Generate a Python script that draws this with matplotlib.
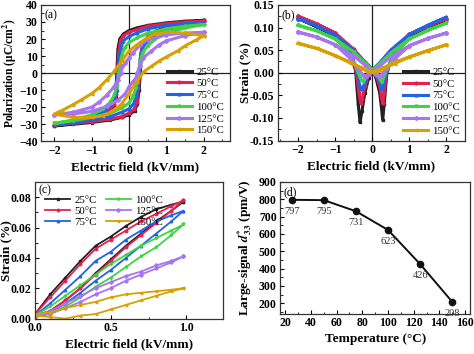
import numpy as np
import matplotlib
matplotlib.use("Agg")
import matplotlib.pyplot as plt
from matplotlib.ticker import AutoMinorLocator, MultipleLocator

plt.rcParams['font.family'] = ['Liberation Serif', 'DejaVu Serif']
plt.rcParams['mathtext.fontset'] = 'stix'
plt.rcParams['font.weight'] = 'bold'

temps = ['25°C', '50°C', '75°C', '100°C', '125°C', '150°C']
colors = ['#222222', '#e8204f', '#2262e6', '#3fd43f', '#a774f2', '#d8a000']
markers = ['s', 'o', '^', 'v', 'D', '<']

# (a) P-E loops: upper branch (E decreasing), lower branch (E increasing)
pe_up_E = [
    [2.0, 1.5, 1.0, 0.5, 0.2, 0.0, -0.15, -0.25, -0.3, -0.33, -0.36, -0.4, -0.5, -0.7, -1.0, -1.5, -2.0],
    [2.0, 1.5, 1.0, 0.5, 0.2, 0.0, -0.15, -0.23, -0.28, -0.31, -0.34, -0.4, -0.5, -0.7, -1.0, -1.5, -2.0],
    [2.0, 1.5, 1.0, 0.5, 0.2, 0.0, -0.15, -0.22, -0.27, -0.3, -0.33, -0.4, -0.5, -0.7, -1.0, -1.5, -2.0],
    [2.0, 1.5, 1.0, 0.5, 0.2, 0.0, -0.12, -0.2, -0.25, -0.28, -0.32, -0.4, -0.5, -0.7, -1.0, -1.5, -2.0],
    [2.0, 1.5, 1.0, 0.5, 0.3, 0.1, 0.0, -0.1, -0.18, -0.22, -0.3, -0.4, -0.6, -0.8, -1.0, -1.5, -2.0],
    [2.0, 1.5, 1.0, 0.7, 0.5, 0.3, 0.2, 0.0, -0.2, -0.4, -0.6, -0.8, -1.0, -1.3, -1.5, -1.8, -2.0],
]
pe_up_P = [
    [31, 30.5, 29.5, 28, 26.5, 25, 23, 20, 14, 0, -14, -19, -22, -25, -27, -29.5, -31],
    [30.5, 30, 29, 27.5, 25.5, 24, 22, 19, 12, 0, -12, -18, -21, -24.5, -26.5, -29, -30.5],
    [29.5, 29, 28, 26, 23.5, 21.5, 19, 15, 8, 0, -10, -16, -19, -23, -26, -28.5, -30],
    [28.5, 27.5, 26, 23.5, 20.5, 18, 15, 10, 4, 0, -7, -13, -17, -21, -24.5, -27.5, -29.5],
    [24, 23.5, 22.5, 19.5, 16.5, 12, 9, 6, 4, 0, -4, -8, -13, -17, -20, -23, -24.5],
    [22, 23.5, 24, 23, 21, 18, 16.5, 13, 7, 1, -4, -8.5, -12, -16, -18.5, -22, -24],
]
pe_lo_E = [
    [-2.0, -1.5, -1.0, -0.5, -0.2, 0.0, 0.15, 0.22, 0.27, 0.3, 0.33, 0.38, 0.5, 0.7, 1.0, 1.5, 2.0],
    [-2.0, -1.5, -1.0, -0.5, -0.2, 0.0, 0.14, 0.21, 0.25, 0.28, 0.31, 0.36, 0.5, 0.7, 1.0, 1.5, 2.0],
    [-2.0, -1.5, -1.0, -0.5, -0.2, 0.0, 0.12, 0.2, 0.24, 0.27, 0.3, 0.36, 0.5, 0.7, 1.0, 1.5, 2.0],
    [-2.0, -1.5, -1.0, -0.5, -0.2, 0.0, 0.1, 0.18, 0.22, 0.25, 0.29, 0.36, 0.5, 0.7, 1.0, 1.5, 2.0],
    [-2.0, -1.5, -1.0, -0.6, -0.3, -0.1, 0.0, 0.1, 0.18, 0.22, 0.28, 0.38, 0.6, 0.8, 1.0, 1.5, 2.0],
    [-2.0, -1.5, -1.0, -0.7, -0.5, -0.3, -0.2, 0.0, 0.2, 0.4, 0.6, 0.8, 1.0, 1.3, 1.5, 1.8, 2.0],
]
pe_lo_P = [
    [-31, -30, -29, -27.5, -26, -24.5, -22, -18, -10, 0, 12, 18, 21.5, 24.5, 27, 29.5, 31],
    [-30.5, -29.5, -28.5, -27, -25.5, -23.5, -21, -17, -9, 0, 11, 17, 21, 24, 26.5, 29, 30.5],
    [-30, -29, -27.5, -25.5, -23, -21, -18, -13, -6, 0, 9, 15, 19, 22.5, 25.5, 28, 29.5],
    [-29.5, -28, -26, -23.5, -20.5, -17.5, -14, -9, -3, 0, 6, 12, 16, 20, 23.5, 26.5, 28.5],
    [-24.5, -24, -22.5, -19.5, -16, -12, -8, -5, -3, 0, 4, 9, 13, 16.5, 19, 22, 24],
    [-24, -26, -26, -25, -23, -20, -18, -12, -5, 1, 4, 7, 9.5, 13, 16, 19.5, 22],
]

# (b) S-E butterfly loops (E increasing branch, E decreasing branch)
se_inc_E = [
    [-2, -1.5, -1, -0.5, -0.2, 0, 0.1, 0.2, 0.25, 0.28, 0.32, 0.4, 0.6, 1, 1.5, 2],
    [-2, -1.5, -1, -0.5, -0.2, 0, 0.1, 0.2, 0.25, 0.28, 0.32, 0.4, 0.6, 1, 1.5, 2],
    [-2, -1.5, -1, -0.5, -0.2, 0, 0.1, 0.18, 0.23, 0.27, 0.31, 0.4, 0.6, 1, 1.5, 2],
    [-2, -1.5, -1, -0.5, -0.2, 0, 0.1, 0.17, 0.22, 0.25, 0.3, 0.4, 0.6, 1, 1.5, 2],
    [-2, -1.5, -1, -0.5, -0.2, 0, 0.08, 0.14, 0.18, 0.2, 0.25, 0.35, 0.6, 1, 1.5, 2],
    [-2, -1.5, -1, -0.5, -0.3, -0.1, 0, 0.05, 0.1, 0.15, 0.2, 0.3, 0.6, 1, 1.5, 2],
]
se_inc_S = [
    [0.12, 0.102, 0.082, 0.048, 0.022, 0.006, -0.012, -0.045, -0.08, -0.105, -0.07, 0.005, 0.04, 0.078, 0.098, 0.117],
    [0.125, 0.108, 0.088, 0.052, 0.024, 0.008, -0.005, -0.03, -0.055, -0.068, -0.045, 0.008, 0.045, 0.085, 0.103, 0.12],
    [0.12, 0.104, 0.083, 0.05, 0.024, 0.008, -0.003, -0.018, -0.03, -0.037, -0.025, 0.008, 0.045, 0.085, 0.105, 0.123],
    [0.105, 0.093, 0.075, 0.046, 0.022, 0.007, -0.002, -0.01, -0.017, -0.02, -0.012, 0.008, 0.04, 0.075, 0.094, 0.11],
    [0.09, 0.079, 0.062, 0.037, 0.017, 0.004, -0.002, -0.006, -0.008, -0.008, -0.004, 0.005, 0.03, 0.06, 0.076, 0.088],
    [0.065, 0.054, 0.038, 0.02, 0.011, 0.004, 0.002, 0.001, 0.002, 0.004, 0.006, 0.01, 0.02, 0.035, 0.049, 0.062],
]
se_dec_E = [
    [2, 1.5, 1, 0.5, 0.2, 0, -0.1, -0.2, -0.28, -0.33, -0.38, -0.45, -0.6, -1, -1.5, -2],
    [2, 1.5, 1, 0.5, 0.2, 0, -0.1, -0.2, -0.27, -0.31, -0.36, -0.44, -0.6, -1, -1.5, -2],
    [2, 1.5, 1, 0.5, 0.2, 0, -0.1, -0.18, -0.25, -0.3, -0.35, -0.42, -0.6, -1, -1.5, -2],
    [2, 1.5, 1, 0.5, 0.2, 0, -0.1, -0.17, -0.22, -0.26, -0.32, -0.42, -0.6, -1, -1.5, -2],
    [2, 1.5, 1, 0.5, 0.2, 0, -0.08, -0.14, -0.18, -0.21, -0.26, -0.36, -0.6, -1, -1.5, -2],
    [2, 1.5, 1, 0.5, 0.3, 0.1, 0, -0.05, -0.1, -0.15, -0.2, -0.3, -0.6, -1, -1.5, -2],
]
se_dec_S = [
    [0.117, 0.098, 0.078, 0.044, 0.019, 0.004, -0.012, -0.045, -0.085, -0.11, -0.07, 0.005, 0.042, 0.082, 0.102, 0.12],
    [0.12, 0.103, 0.085, 0.05, 0.022, 0.006, -0.005, -0.03, -0.058, -0.068, -0.045, 0.008, 0.048, 0.088, 0.108, 0.125],
    [0.123, 0.105, 0.085, 0.05, 0.022, 0.006, -0.003, -0.018, -0.032, -0.037, -0.025, 0.008, 0.046, 0.083, 0.104, 0.12],
    [0.11, 0.094, 0.075, 0.044, 0.02, 0.005, -0.002, -0.01, -0.017, -0.02, -0.012, 0.008, 0.04, 0.075, 0.093, 0.105],
    [0.088, 0.076, 0.06, 0.035, 0.015, 0.003, -0.002, -0.006, -0.008, -0.008, -0.004, 0.005, 0.032, 0.062, 0.079, 0.09],
    [0.062, 0.049, 0.035, 0.02, 0.011, 0.004, 0.002, 0.001, 0.002, 0.004, 0.006, 0.01, 0.022, 0.038, 0.054, 0.065],
]

# (c) unipolar strain: rising and falling branches
uni_E = [0.0, 0.1, 0.2, 0.3, 0.4, 0.5, 0.6, 0.7, 0.8, 0.9, 0.98]
uni_up = [
    [0.002, 0.005, 0.012, 0.02, 0.03, 0.039, 0.048, 0.056, 0.064, 0.071, 0.077],
    [0.002, 0.005, 0.012, 0.02, 0.029, 0.038, 0.047, 0.055, 0.063, 0.071, 0.078],
    [0.002, 0.004, 0.01, 0.017, 0.025, 0.032, 0.04, 0.048, 0.056, 0.064, 0.071],
    [0.002, 0.004, 0.008, 0.014, 0.021, 0.027, 0.034, 0.041, 0.047, 0.055, 0.062],
    [0.001, 0.003, 0.007, 0.011, 0.016, 0.02, 0.025, 0.029, 0.033, 0.037, 0.041],
    [0.002, 0.001, 0.0, 0.002, 0.003, 0.006, 0.009, 0.012, 0.015, 0.018, 0.02],
]
uni_down = [
    [0.003, 0.016, 0.027, 0.038, 0.048, 0.054, 0.061, 0.067, 0.072, 0.075, 0.077],
    [0.003, 0.014, 0.025, 0.036, 0.046, 0.052, 0.058, 0.064, 0.069, 0.074, 0.078],
    [0.002, 0.01, 0.019, 0.028, 0.038, 0.044, 0.052, 0.058, 0.064, 0.068, 0.071],
    [0.002, 0.008, 0.015, 0.022, 0.029, 0.036, 0.042, 0.048, 0.053, 0.058, 0.062],
    [0.002, 0.005, 0.01, 0.015, 0.02, 0.024, 0.028, 0.031, 0.035, 0.038, 0.041],
    [0.003, 0.004, 0.007, 0.009, 0.011, 0.014, 0.016, 0.017, 0.018, 0.019, 0.02],
]

# (d) large-signal d33*
T = [25, 50, 75, 100, 125, 150]
d33 = [797, 795, 731, 623, 426, 208]

fig = plt.figure(figsize=(4.74, 3.54), dpi=100)
axa = fig.add_axes([0.0865, 0.601, 0.3985, 0.385])
axb = fig.add_axes([0.586, 0.603, 0.395, 0.383])
axc = fig.add_axes([0.074, 0.100, 0.396, 0.386])
axd = fig.add_axes([0.591, 0.114, 0.401, 0.372])

tick_fs = 8.5
lab_fs = 9.5
leg_fs = 7.8


def style(ax):
    ax.tick_params(which='both', direction='in', labelsize=tick_fs, top=False, right=False)
    ax.tick_params(which='major', length=3, width=0.8, pad=2.5)
    ax.tick_params(which='minor', length=1.8, width=0.6)
    ax.xaxis.set_minor_locator(AutoMinorLocator(2))
    ax.yaxis.set_minor_locator(AutoMinorLocator(2))
    for s in ax.spines.values():
        s.set_linewidth(0.9)
        s.set_color('#333333')
    for lab in ax.get_xticklabels() + ax.get_yticklabels():
        lab.set_fontweight('bold')


def legend_normal(leg):
    for t in leg.get_texts():
        t.set_fontweight('normal')


# (a)
for i in range(6):
    axa.plot(pe_up_E[i] + pe_lo_E[i], pe_up_P[i] + pe_lo_P[i], color=colors[i], lw=2.2,
             marker=markers[i], ms=2, label=temps[i])
axa.axhline(0, color='#222222', lw=0.9, zorder=0)
axa.axvline(0, color='#222222', lw=0.9, zorder=0)
axa.set_xlim(-2.36, 2.7)
axa.set_ylim(-40, 40)
axa.xaxis.set_major_locator(MultipleLocator(1))
axa.yaxis.set_major_locator(MultipleLocator(10))
axa.set_xlabel('Electric field (kV/mm)', fontsize=lab_fs, fontweight='bold', labelpad=3)
axa.set_ylabel('Polarization (μC/cm$^\\mathbf{2}$)', fontsize=8.3, fontweight='bold')
axa.yaxis.set_label_coords(-0.118, 0.5)
axa.text(0.02, 0.97, '(a)', transform=axa.transAxes, fontsize=8.5, fontweight='normal', va='top')
legend_normal(axa.legend(loc='lower right', frameon=False, fontsize=leg_fs, handlelength=2.3,
                         numpoints=1, labelspacing=0.2, borderaxespad=0.15, handletextpad=0.4))
style(axa)

# (b)
for i in range(6):
    axb.plot(se_inc_E[i] + se_dec_E[i], se_inc_S[i] + se_dec_S[i], color=colors[i], lw=2.2,
             marker=markers[i], ms=2, label=temps[i])
axb.axhline(0, color='#222222', lw=0.9, zorder=0)
axb.axvline(0, color='#222222', lw=0.9, zorder=0)
axb.set_xlim(-2.55, 2.5)
axb.set_ylim(-0.15, 0.15)
axb.xaxis.set_major_locator(MultipleLocator(1))
axb.yaxis.set_major_locator(MultipleLocator(0.05))
axb.yaxis.set_major_formatter(plt.FormatStrFormatter('%.2f'))
axb.set_xlabel('Electric field (kV/mm)', fontsize=lab_fs, fontweight='bold', labelpad=3)
axb.set_ylabel('Strain (%)', fontsize=lab_fs, fontweight='bold')
axb.yaxis.set_label_coords(-0.14, 0.5)
axb.text(0.02, 0.97, '(b)', transform=axb.transAxes, fontsize=8.5, fontweight='normal', va='top')
legend_normal(axb.legend(loc='lower right', frameon=False, fontsize=leg_fs, handlelength=2.3,
                         numpoints=1, labelspacing=0.2, borderaxespad=0.05, handletextpad=0.4))
style(axb)

# (c)
for i in range(6):
    axc.plot(uni_E + uni_E[::-1], uni_up[i] + uni_down[i][::-1], color=colors[i], lw=1.3,
             marker=markers[i], ms=1.8, label=temps[i])
axc.set_xlim(0, 1.24)
axc.set_ylim(0, 0.09)
axc.xaxis.set_major_locator(MultipleLocator(0.5))
axc.yaxis.set_major_locator(MultipleLocator(0.02))
axc.yaxis.set_major_formatter(plt.FormatStrFormatter('%.2f'))
axc.set_xlabel('Electric field (kV/mm)', fontsize=lab_fs, fontweight='bold', labelpad=3)
axc.set_ylabel('Strain (%)', fontsize=lab_fs, fontweight='bold')
axc.yaxis.set_label_coords(-0.12, 0.5)
axc.text(0.02, 0.985, '(c)', transform=axc.transAxes, fontsize=8.5, fontweight='normal', va='top')
legend_normal(axc.legend(loc='upper left', ncol=2, frameon=False, fontsize=leg_fs, handlelength=2.3,
                         numpoints=1, labelspacing=0.15, borderaxespad=0.2, handletextpad=0.4,
                         columnspacing=0.8, bbox_to_anchor=(0.02, 0.95)))
style(axc)

# (d)
axd.plot(T, d33, color='#111111', lw=1.4, marker='o', ms=4.5)
for t, v in zip(T, d33):
    axd.annotate(str(v), (t, v), xytext=(0, -5), textcoords='offset points', ha='center',
                 va='top', fontsize=7.5, fontweight='normal', color='#333333')
axd.set_xlim(16, 164)
axd.set_ylim(140, 900)
axd.xaxis.set_major_locator(MultipleLocator(20))
axd.set_yticks(range(200, 901, 100))
axd.set_xlabel('Temperature (°C)', fontsize=lab_fs, fontweight='bold', labelpad=3)
axd.set_ylabel('Large-signal $\\mathbfit{d}^{\\mathbf{*}}_{\\mathbf{33}}$ (pm/V)', fontsize=lab_fs,
               fontweight='bold')
axd.yaxis.set_label_coords(-0.137, 0.5)
axd.text(0.02, 0.97, '(d)', transform=axd.transAxes, fontsize=8.5, fontweight='normal', va='top')
style(axd)

fig.savefig('out.png', dpi=100)
